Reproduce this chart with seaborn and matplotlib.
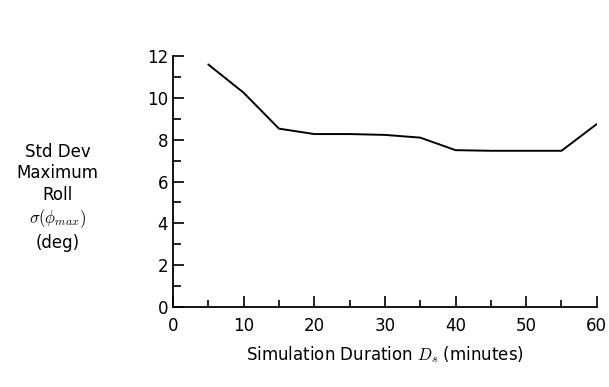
import numpy as np
import pandas as pd
import seaborn as sns
import matplotlib.pyplot as plt
from matplotlib.ticker import MultipleLocator

# values
duration = [5, 10, 15, 20, 25, 30, 35, 40, 45, 50, 55, 60]
std_roll = [11.6, 10.25, 8.53, 8.27, 8.27, 8.23, 8.1, 7.5, 7.47, 7.47, 7.47, 8.75]

df = pd.DataFrame({'duration': duration, 'std_roll': std_roll})

sns.set_style('ticks')
plt.rcParams['font.family'] = ['DejaVu Sans']
plt.rcParams['mathtext.fontset'] = 'cm'
plt.rcParams['text.color'] = 'black'
plt.rcParams['axes.labelcolor'] = 'black'

fig = plt.figure(figsize=(6.09, 3.87), dpi=100)
ax = fig.add_axes([0.284, 0.207, 0.696, 0.648])

sns.lineplot(data=df, x='duration', y='std_roll', ax=ax, color='black', linewidth=1.4)

ax.set_xlim(0, 60)
ax.set_ylim(0, 12)
ax.xaxis.set_major_locator(MultipleLocator(10))
ax.xaxis.set_minor_locator(MultipleLocator(5))
ax.yaxis.set_major_locator(MultipleLocator(2))
ax.yaxis.set_minor_locator(MultipleLocator(1))
ax.tick_params(which='both', direction='in', colors='black', labelsize=12, width=1.2)
ax.tick_params(which='major', length=8)
ax.tick_params(which='minor', length=5)
ax.tick_params(axis='y', which='minor', length=6)
ax.tick_params(axis='x', which='major', pad=7)
for s in ['top', 'right']:
    ax.spines[s].set_visible(False)
for s in ['left', 'bottom']:
    ax.spines[s].set_linewidth(1.3)
    ax.spines[s].set_color('black')

ax.set_xlabel('Simulation Duration $D_s$ (minutes)', fontsize=12, labelpad=7)
ax.set_ylabel('')

fig.text(0.095, 0.49, 'Std Dev\nMaximum\nRoll\n$\\sigma(\\phi_{max})$\n(deg)',
         ha='center', va='center', fontsize=12, linespacing=1.25)

fig.savefig('out.png', dpi=100)
